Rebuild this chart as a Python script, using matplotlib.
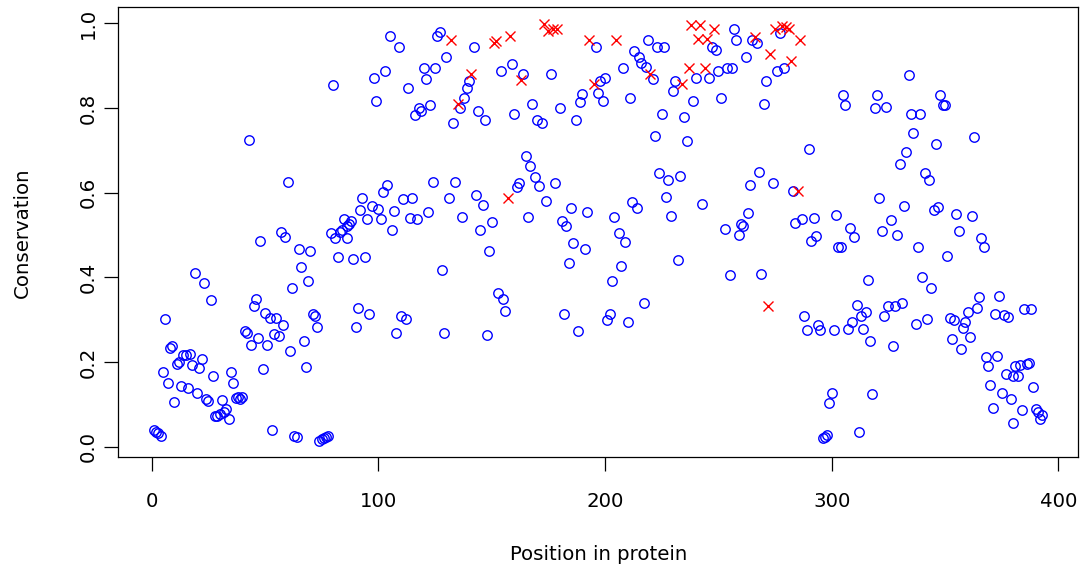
"""Conservation along the protein, R-style scatter."""
import numpy as np
import matplotlib
matplotlib.use('Agg')
import matplotlib.pyplot as plt

plt.rcParams['font.family'] = ['DejaVu Sans']

# protein positions (86 and 380 carry two readings each, 194 and 252 none)
pos = [*range(1, 87), 86, *range(87, 194), *range(195, 252),
       *range(253, 381), 380, *range(381, 394)]

cons = [
    0.039, 0.035, 0.032, 0.026, 0.176, 0.302, 0.152, 0.233, 0.239, 0.107,
    0.196, 0.201, 0.144, 0.217, 0.217, 0.139, 0.219, 0.194, 0.410, 0.128,
    0.187, 0.207, 0.387, 0.113, 0.109, 0.346, 0.168, 0.073, 0.073, 0.078,
    0.111, 0.083, 0.089, 0.065, 0.176, 0.151, 0.115, 0.119, 0.113, 0.119,
    0.274, 0.270, 0.724, 0.241, 0.332, 0.348, 0.256, 0.485, 0.184, 0.316,
    0.241, 0.304, 0.039, 0.267, 0.304, 0.261, 0.507, 0.288, 0.495, 0.626,
    0.227, 0.375, 0.026, 0.024, 0.466, 0.424, 0.249, 0.188, 0.391, 0.463,
    0.314, 0.310, 0.284, 0.015, 0.018, 0.021, 0.023, 0.026, 0.504, 0.853,
    0.494, 0.448, 0.507, 0.513, 0.537, 0.521,
    0.493,
    0.525, 0.532, 0.444, 0.284, 0.329, 0.560, 0.588, 0.448, 0.538, 0.314,
    0.568, 0.870, 0.816, 0.562, 0.538, 0.601, 0.887, 0.619, 0.970, 0.511,
    0.556, 0.268, 0.944, 0.310, 0.584, 0.302, 0.847, 0.541, 0.588, 0.784,
    0.538, 0.800, 0.793, 0.894, 0.869, 0.554, 0.808, 0.625, 0.894, 0.970,
    0.979, 0.418, 0.270, 0.919, 0.587, 0.960, 0.764, 0.626, 0.809, 0.800,
    0.542, 0.824, 0.846, 0.864, 0.879, 0.944, 0.594, 0.793, 0.512, 0.572,
    0.771, 0.265, 0.462, 0.530, 0.953, 0.958, 0.363, 0.887, 0.349, 0.322,
    0.588, 0.970, 0.903, 0.786, 0.614, 0.622, 0.866, 0.879, 0.686, 0.542,
    0.663, 0.809, 0.638, 0.771, 0.615, 0.765, 0.998, 0.580, 0.982, 0.879,
    0.987, 0.622, 0.987, 0.800, 0.533, 0.314, 0.521, 0.433, 0.564, 0.482,
    0.771, 0.273, 0.814, 0.832, 0.466, 0.555, 0.960,
    0.856, 0.944, 0.835, 0.864, 0.816, 0.871, 0.299, 0.314, 0.391, 0.543,
    0.960, 0.504, 0.427, 0.894, 0.483, 0.295, 0.824, 0.579, 0.935, 0.564,
    0.919, 0.905, 0.340, 0.897, 0.960, 0.881, 0.869, 0.734, 0.944, 0.647,
    0.786, 0.944, 0.590, 0.631, 0.544, 0.840, 0.864, 0.441, 0.639, 0.856,
    0.778, 0.721, 0.895, 0.995, 0.816, 0.871, 0.962, 0.995, 0.574, 0.895,
    0.962, 0.871, 0.944, 0.987, 0.937, 0.887, 0.824,
    0.515, 0.895, 0.406, 0.893, 0.987, 0.960, 0.500, 0.525, 0.521, 0.919,
    0.552, 0.619, 0.960, 0.968, 0.953, 0.649, 0.407, 0.809, 0.863, 0.332,
    0.928, 0.623, 0.987, 0.887, 0.976, 0.994, 0.895, 0.990, 0.986, 0.911,
    0.604, 0.528, 0.605, 0.960, 0.537, 0.310, 0.277, 0.704, 0.485, 0.541,
    0.497, 0.288, 0.275, 0.021, 0.024, 0.028, 0.103, 0.127, 0.277, 0.548,
    0.472, 0.472, 0.831, 0.807, 0.279, 0.516, 0.296, 0.496, 0.335, 0.035,
    0.310, 0.278, 0.318, 0.394, 0.250, 0.125, 0.800, 0.831, 0.587, 0.509,
    0.310, 0.802, 0.333, 0.536, 0.239, 0.333, 0.501, 0.668, 0.340, 0.568,
    0.697, 0.878, 0.785, 0.740, 0.290, 0.471, 0.785, 0.401, 0.647, 0.303,
    0.631, 0.374, 0.560, 0.715, 0.566, 0.831, 0.807, 0.807, 0.450, 0.304,
    0.254, 0.299, 0.549, 0.509, 0.231, 0.281, 0.296, 0.318, 0.259, 0.544,
    0.731, 0.328, 0.353, 0.493, 0.471, 0.213, 0.191, 0.146, 0.091, 0.314,
    0.215, 0.357, 0.128, 0.312, 0.173, 0.307, 0.113, 0.056,
    0.168,
    0.190, 0.168, 0.193, 0.087, 0.326, 0.196, 0.198, 0.326, 0.141, 0.089,
    0.083, 0.067, 0.076,
]

# positions drawn as red crosses
marked = [132, 135, 141, 151, 152, 157, 158, 163, 173, 175, 177, 179, 193,
          195, 205, 220, 234, 237, 238, 241, 242, 244, 245, 248, 266, 272,
          273, 275, 278, 280, 281, 282, 285, 286]

xticks = [0, 100, 200, 300, 400]
yticks = [0.0, 0.2, 0.4, 0.6, 0.8, 1.0]

x = np.array(pos)
y = np.array(cons)
red = np.isin(x, marked)

fig = plt.figure(figsize=(10.81, 5.71), dpi=100)
ax = fig.add_axes([118.4 / 1081, 1 - 457.3 / 571, 959.6 / 1081, 450.0 / 571])

ax.plot(x[~red], y[~red], 'o', ls='none', mfc='none', mec='#0000ff', ms=6.8, mew=1.0)
ax.plot(x[red], y[red], 'x', ls='none', color='#ff0000', ms=7.2, mew=1.0)

# R pads the data range by 4% on each side
xr = x.max() - x.min()
yr = y.max() - y.min()
ax.set_xlim(x.min() - 0.04 * xr, x.max() + 0.04 * xr)
ax.set_ylim(y.min() - 0.04 * yr, y.max() + 0.04 * yr)

ax.set_xticks(xticks)
ax.set_xticklabels([str(t) for t in xticks])
ax.set_yticks(yticks)
ax.set_yticklabels(['%.1f' % t for t in yticks], rotation=90, va='center')
ax.tick_params(length=10, width=0.9, labelsize=14.2, direction='out')
ax.tick_params(axis='x', pad=15)
ax.tick_params(axis='y', pad=5)
for s in ax.spines.values():
    s.set_linewidth(0.9)

fig.text(0.5 * (118.4 + 1078) / 1081, 1 - 555 / 571, 'Position in protein',
         ha='center', va='center', fontsize=14.2)
fig.text(22 / 1081, 1 - 233 / 571, 'Conservation', rotation=90,
         ha='center', va='center', fontsize=14.2)

fig.savefig('out.png', dpi=100)
